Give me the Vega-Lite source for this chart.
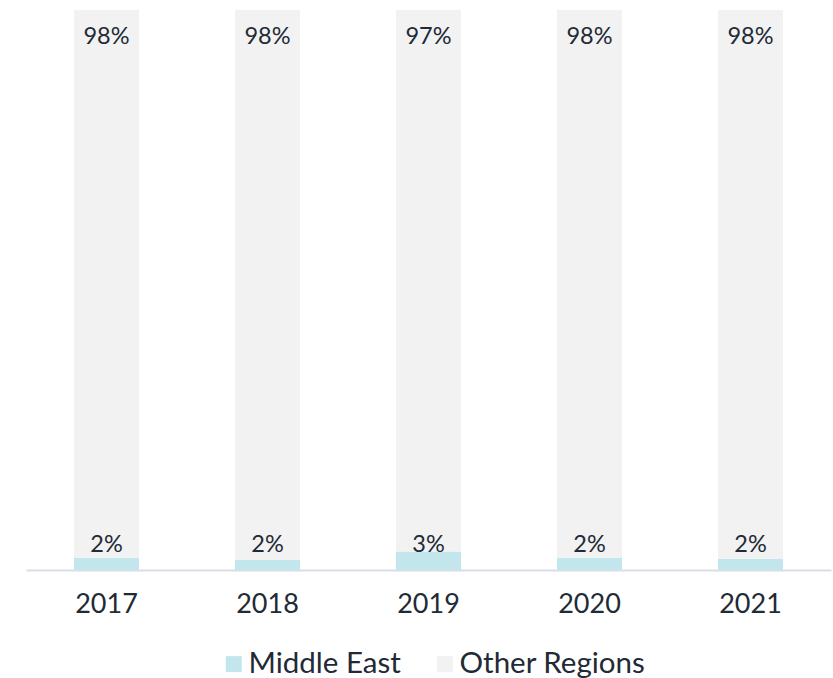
{
  "$schema": "https://vega.github.io/schema/vega-lite/v6.json",
  "width": 805,
  "height": 560,
  "autosize": {"type": "none"},
  "padding": {"left": 26, "top": 10, "right": 2, "bottom": 108},
  "background": "white",
  "config": {
    "font": "Lato",
    "view": {"stroke": null},
    "text": {"font": "Lato", "color": "#222a36"}
  },
  "data": {
    "values": [
      {"year": "2017", "region": "Middle East", "share": 0.022},
      {"year": "2017", "region": "Other Regions", "share": 0.978},
      {"year": "2018", "region": "Middle East", "share": 0.018},
      {"year": "2018", "region": "Other Regions", "share": 0.982},
      {"year": "2019", "region": "Middle East", "share": 0.033},
      {"year": "2019", "region": "Other Regions", "share": 0.967},
      {"year": "2020", "region": "Middle East", "share": 0.022},
      {"year": "2020", "region": "Other Regions", "share": 0.978},
      {"year": "2021", "region": "Middle East", "share": 0.020},
      {"year": "2021", "region": "Other Regions", "share": 0.980}
    ]
  },
  "encoding": {
    "x": {
      "field": "year",
      "type": "nominal",
      "scale": {"paddingInner": 0.596, "paddingOuter": 0.298},
      "axis": {
        "title": null,
        "labelAngle": 0,
        "ticks": false,
        "domainColor": "#d9dde7",
        "domainWidth": 2,
        "labelFont": "Lato",
        "labelFontSize": 27,
        "labelColor": "#222a36",
        "labelPadding": 21
      }
    }
  },
  "layer": [
    {
      "mark": {"type": "bar"},
      "encoding": {
        "y": {
          "field": "share",
          "type": "quantitative",
          "stack": "zero",
          "scale": {"domain": [0, 1]},
          "axis": null
        },
        "color": {
          "field": "region",
          "type": "nominal",
          "scale": {"domain": ["Middle East", "Other Regions"], "range": ["#c3e6ec", "#f2f2f2"]},
          "legend": {
            "title": null,
            "orient": "none",
            "legendX": 193,
            "legendY": 639,
            "direction": "horizontal",
            "symbolType": "square",
            "symbolSize": 256,
            "symbolStrokeWidth": 0,
            "labelFont": "Lato",
            "labelFontSize": 29.5,
            "labelColor": "#222a36",
            "labelOffset": 0,
            "labelLimit": 400,
            "columnPadding": 29
          }
        },
        "order": {"field": "region", "sort": "ascending"}
      }
    },
    {
      "transform": [{"filter": "datum.region === 'Other Regions'"}],
      "mark": {"type": "text", "baseline": "middle", "dy": 27, "fontSize": 23.5},
      "encoding": {
        "y": {"datum": 1, "type": "quantitative"},
        "text": {"field": "share", "type": "quantitative", "format": ".0%"}
      }
    },
    {
      "transform": [{"filter": "datum.region === 'Middle East'"}],
      "mark": {"type": "text", "baseline": "middle", "dy": -25, "fontSize": 23.5},
      "encoding": {
        "y": {"datum": 0, "type": "quantitative"},
        "text": {"field": "share", "type": "quantitative", "format": ".0%"}
      }
    }
  ]
}
